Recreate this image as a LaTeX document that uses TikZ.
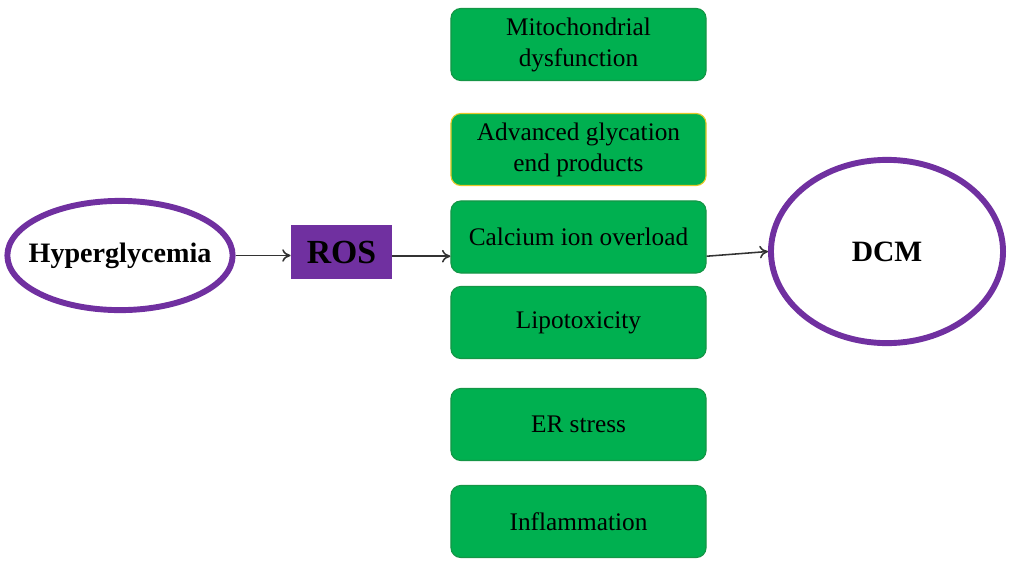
\documentclass[tikz,border=0pt]{standalone}
\usepackage{fontspec}
\setmainfont{Liberation Serif}
\usetikzlibrary{arrows.meta, shapes.geometric}
\definecolor{figP}{RGB}{112,48,160}
\definecolor{figG}{RGB}{0,176,80}
\definecolor{figGd}{RGB}{20,150,70}
\definecolor{figY}{RGB}{230,200,40}
\tikzset{
  factor/.style={rectangle, rounded corners=7pt, fill=figG, draw=figGd, line width=0.8pt,
    minimum width=6.375cm, minimum height=1.8cm, align=center,
    font=\fontsize{18}{22}\selectfont},
  oval/.style={ellipse, draw=figP, line width=4.2pt, fill=white, inner sep=0pt},
  link/.style={-{To[length=6pt, width=9pt]}, line width=1.1pt, black!80}
}
\begin{document}
\begin{tikzpicture}[x=0.025cm, y=-0.025cm]
\useasboundingbox (0,0) rectangle (1016,565);
% column of mechanisms
\node[factor] (mito) at (578.5,44.5) {Mitochondrial\\dysfunction};
\node[factor, draw=figY] (age) at (578.5,149.5) {Advanced glycation\\end products};
\node[factor] (calcium) at (578.5,237) {Calcium ion overload};
\node[factor] (lipo) at (578.5,322.5) {Lipotoxicity};
\node[factor] (er) at (578.5,424.5) {ER stress};
\node[factor] (inflam) at (578.5,521.5) {Inflammation};
% cause and outcome
\node[oval, minimum width=5.63cm, minimum height=2.73cm,
  label={[font=\fontsize{20}{24}\selectfont\bfseries]center:Hyperglycemia}] (hyper) at (120,255.5) {};
\node[rectangle, fill=figP, minimum width=2.53cm, minimum height=1.35cm,
  font=\fontsize{24}{28}\selectfont\bfseries] (ros) at (341.5,252) {ROS};
\node[oval, minimum width=5.8cm, minimum height=4.58cm,
  font=\fontsize{21}{25}\selectfont\bfseries] (dcm) at (887,251.5) {DCM};
% arrows
\draw[link] (hyper.east) -- (ros.west |- hyper.east);
\draw[link] ([yshift=-3pt]ros.east) -- ([yshift=-3pt]ros.east -| calcium.west);
\draw[link] ([yshift=-3pt]ros.east -| calcium.east) -- (dcm.west);
\end{tikzpicture}
\end{document}
